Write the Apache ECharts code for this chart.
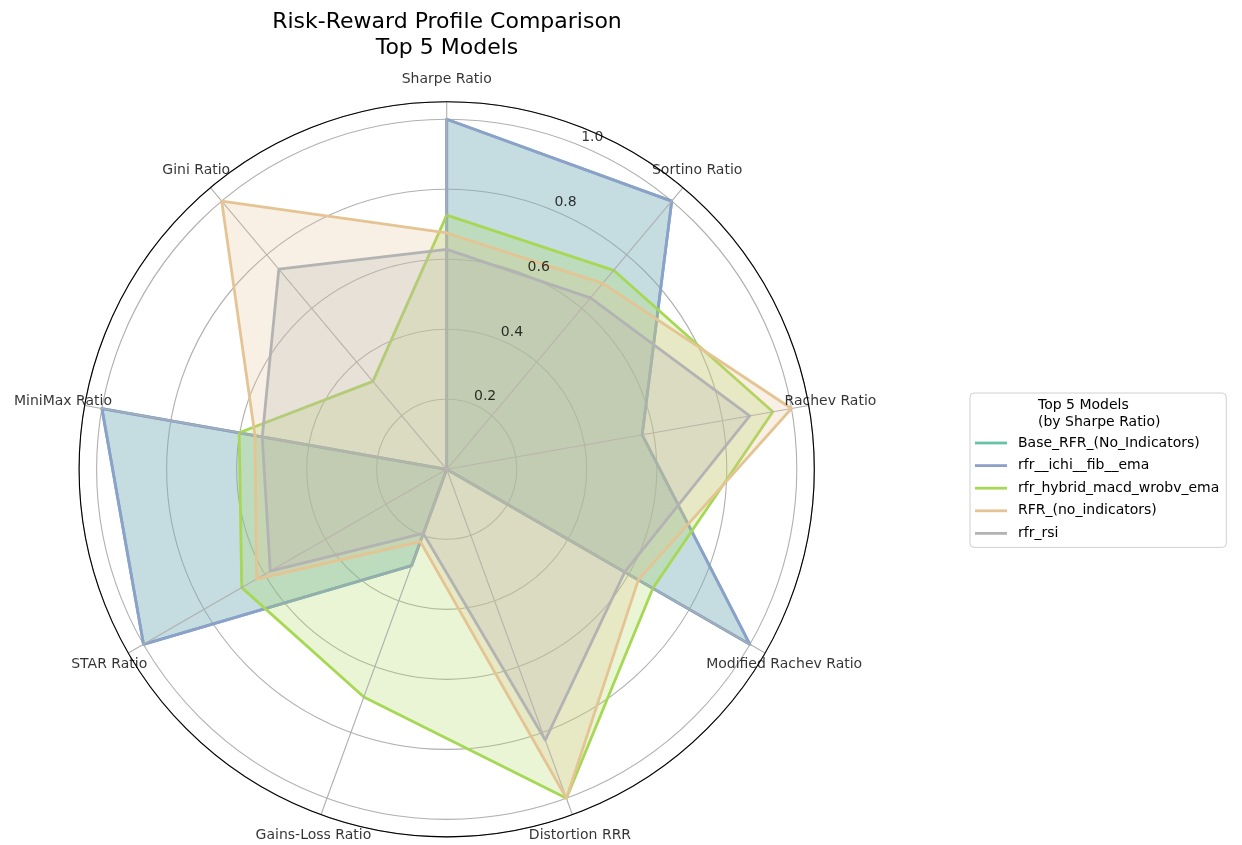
<!DOCTYPE html>
<html>
<head>
<meta charset="utf-8">
<script src="https://cdn.jsdelivr.net/npm/echarts@6/dist/echarts.min.js"></script>
<style>
  html, body { margin: 0; padding: 0; background: #ffffff; }
  #chart { width: 1242px; height: 845px; }
</style>
</head>
<body>
<div id="chart"></div>
<script>
// ---- data ----
const categories = ['Sharpe Ratio', 'Sortino Ratio', 'Rachev Ratio', 'Modified Rachev Ratio',
  'Distortion RRR', 'Gains-Loss Ratio', 'STAR Ratio', 'MiniMax Ratio', 'Gini Ratio'];
const seriesNames = ['Base_RFR_(No_Indicators)', 'rfr__ichi__fib__ema', 'rfr_hybrid_macd_wrobv_ema',
  'RFR_(no_indicators)', 'rfr_rsi'];
const baseRFR   = [1.0, 1.0, 0.567, 1.0, 0.0, 0.293, 1.0, 1.0, 0.0];
const rfrIchi   = [1.0, 1.0, 0.567, 1.0, 0.0, 0.293, 1.0, 1.0, 0.0];
const rfrHybrid = [0.726, 0.742, 0.946, 0.680, 1.0, 0.692, 0.676, 0.602, 0.328];
const rfrNoInd  = [0.675, 0.693, 1.0, 0.632, 1.0, 0.220, 0.627, 0.556, 1.0];
const rfrRsi    = [0.628, 0.639, 0.879, 0.587, 0.823, 0.195, 0.582, 0.535, 0.746];
const radialTicks = [0.2, 0.4, 0.6, 0.8, 1.0];

// ---- styling / layout ----
const colors = ['#66c2a5', '#8da0cb', '#a6d854', '#e5c494', '#b3b3b3'];
const FONT = 'DejaVu Sans';
const STEP = 360 / categories.length;
const R_MAX = 1.05;
const LABEL_R = 1.113;
const TICK_LABEL_ANGLE = 22.5;

const allValues = [baseRFR, rfrIchi, rfrHybrid, rfrNoInd, rfrRsi];

function closedPoints(vals) {
  const pts = vals.map((v, i) => [v, i * STEP]);
  pts.push([vals[0], 360]);
  return pts;
}

const lineSeries = allValues.map((vals, k) => ({
  name: seriesNames[k],
  type: 'line',
  coordinateSystem: 'polar',
  data: closedPoints(vals),
  symbol: 'none',
  showSymbol: false,
  clip: false,
  color: colors[k],
  lineStyle: { width: 2.8, color: colors[k], join: 'round', cap: 'round' },
  areaStyle: { color: colors[k], opacity: 0.25 },
  emphasis: { disabled: true },
  silent: true,
  z: 2 + k
}));

const chart = echarts.init(document.getElementById('chart'), null, { renderer: 'canvas' });
chart.setOption({
  animation: false,
  backgroundColor: '#ffffff',
  textStyle: { fontFamily: FONT },
  title: [
    {
      text: 'Risk-Reward Profile Comparison\nTop 5 Models',
      left: 447, top: 9, textAlign: 'center', padding: 0,
      textStyle: { fontFamily: FONT, fontSize: 22, fontWeight: 'normal', color: '#000', lineHeight: 26 }
    },
    {
      text: 'Top 5 Models\n(by Sharpe Ratio)',
      left: 1038, top: 397, padding: 0, z: 10,
      textStyle: { fontFamily: FONT, fontSize: 14, fontWeight: 'normal', color: '#000', lineHeight: 17 }
    }
  ],
  legend: {
    data: seriesNames,
    orient: 'vertical',
    left: 970, top: 393,
    padding: [43, 7, 7, 5],
    icon: 'path://M0,0L32,0L32,2.8L0,2.8Z',
    symbolKeepAspect: true,
    itemWidth: 32, itemHeight: 14, itemGap: 8.6,
    backgroundColor: '#ffffff',
    borderColor: '#d0d0d0', borderWidth: 1, borderRadius: 4,
    selectedMode: false,
    textStyle: { fontFamily: FONT, fontSize: 14, color: '#000', padding: [0, 0, 0, 6] }
  },
  polar: { center: [446.7, 469.3], radius: 367.6 },
  angleAxis: {
    type: 'value', min: 0, max: 360, interval: STEP,
    startAngle: 90, clockwise: true, z: 5,
    axisLine: { show: true, lineStyle: { color: '#000', width: 1.1 } },
    axisTick: { show: false },
    axisLabel: { show: false },
    splitLine: { show: true, lineStyle: { color: '#b0b0b0', width: 1.1 } }
  },
  radiusAxis: {
    type: 'value', min: 0, max: R_MAX, interval: 0.2,
    axisLine: { show: false }, axisTick: { show: false }, axisLabel: { show: false },
    splitLine: { show: true, lineStyle: { color: '#b0b0b0', width: 1.1 } }
  },
  series: lineSeries.concat([
    {
      name: 'axisNames', type: 'scatter', coordinateSystem: 'polar', clip: false, silent: true,
      symbolSize: 1, itemStyle: { color: 'transparent' }, z: 20,
      data: categories.map((c, i) => ({ name: c, value: [LABEL_R, i * STEP] })),
      label: { show: true, position: 'inside', formatter: '{b}', color: '#000',
               fontFamily: FONT, fontSize: 14, align: 'center', verticalAlign: 'middle' }
    },
    {
      name: 'radialTicks', type: 'scatter', coordinateSystem: 'polar', clip: false, silent: true,
      symbolSize: 1, itemStyle: { color: 'transparent' }, z: 20,
      data: radialTicks.map(t => ({ name: t.toFixed(1), value: [t, TICK_LABEL_ANGLE] })),
      label: { show: true, position: 'right', distance: 0, offset: [0, -8], formatter: '{b}',
               color: '#000', fontFamily: FONT, fontSize: 14 }
    }
  ])
});
</script>
</body>
</html>
